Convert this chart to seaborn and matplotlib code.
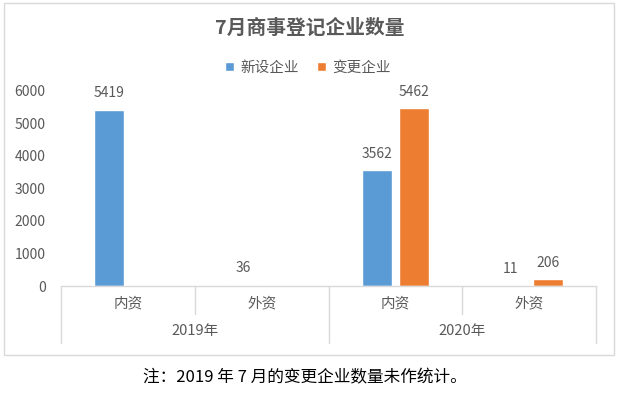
import numpy as np
import pandas as pd
import matplotlib
matplotlib.use("Agg")
import matplotlib.pyplot as plt
from matplotlib.patches import Rectangle
from matplotlib.lines import Line2D
import matplotlib.transforms as mtransforms
import seaborn as sns

# ---- data ----
years = ["2019年", "2019年", "2020年", "2020年"]
subcats = ["内资", "外资", "内资", "外资"]
series_names = ["新设企业", "变更企业"]
new_vals = [5419, 36, 3562, 11]
chg_vals = [np.nan, np.nan, 5462, 206]   # 2019 变更 not counted
yticks = [0, 1000, 2000, 3000, 4000, 5000, 6000]
title = "7月商事登记企业数量"
note = "注：2019 年 7 月的变更企业数量未作统计。"

keys = [f"{y}-{s}" for y, s in zip(years, subcats)]
rows = []
for k, a, b in zip(keys, new_vals, chg_vals):
    rows.append({"cat": k, "series": series_names[0], "value": a})
    rows.append({"cat": k, "series": series_names[1], "value": b})
df = pd.DataFrame(rows).dropna()

sns.set_style("white")
plt.rcParams["font.family"] = ["Noto Sans CJK SC", "DejaVu Sans"]

W, H = 623, 393
fig = plt.figure(figsize=(W / 100, H / 100), dpi=100)
left, right, top, bottom = 61, 596, 91, 286
ax = fig.add_axes([left / W, 1 - bottom / H, (right - left) / W, (bottom - top) / H])

palette = {"新设企业": "#5B9BD5", "变更企业": "#ED7D31"}
sns.barplot(data=df, x="cat", y="value", hue="series", order=keys,
            hue_order=series_names, palette=palette, width=0.56, gap=0.2,
            saturation=1, errorbar=None, ax=ax, legend=True)

txt_col = "#595959"
grid_col = "#D9D9D9"

for c in ax.containers:
    ax.bar_label(c, fmt="{:.0f}", padding=7, fontsize=10, color=txt_col)

ax.set_xlim(-0.5, len(keys) - 0.5)
ax.set_ylim(0, 6000)
ax.set_yticks(yticks)
ax.set_yticklabels([str(v) for v in yticks], fontsize=10, color=txt_col)
ax.tick_params(axis="y", length=0, pad=11)
ax.set_xticks([])
ax.set_xlabel("")
ax.set_ylabel("")
for s in ["top", "right", "left"]:
    ax.spines[s].set_visible(False)
ax.spines["bottom"].set_color(grid_col)
ax.spines["bottom"].set_linewidth(1)

# two-level category axis
trans = mtransforms.blended_transform_factory(ax.transData, ax.transAxes)
for i, s in enumerate(subcats):
    ax.text(i, -0.087, s, transform=trans, ha="center", va="center",
            fontsize=10.5, color=txt_col)
uniq_years = list(dict.fromkeys(years))
for y in uniq_years:
    idx = [i for i, v in enumerate(years) if v == y]
    ax.text(np.mean(idx), -0.231, y, transform=trans, ha="center", va="center",
            fontsize=10.5, color=txt_col)
# separators
for b in np.arange(-0.5, len(keys), 1.0):
    i_right = int(b + 0.5)
    is_group_edge = (b == -0.5) or (b == len(keys) - 0.5) or (years[i_right] != years[i_right - 1])
    y0 = -0.292 if is_group_edge else -0.144
    ax.add_line(Line2D([b, b], [0, y0], transform=trans, color=grid_col,
                       lw=1, clip_on=False))

# legend
handles, labels = ax.get_legend_handles_labels()
ax.get_legend().remove()
fig.legend(handles, labels, loc="center", bbox_to_anchor=(308 / W, 1 - 68 / H),
           ncol=2, frameon=False, fontsize=10.5, handlelength=0.6, handleheight=0.6,
           handletextpad=0.4, columnspacing=1.3, labelcolor=txt_col)

# title
fig.text(309.5 / W, 1 - 28 / H, title, ha="center", va="center",
         fontsize=14.2, fontweight="bold", color=txt_col)

# chart border
fig.add_artist(Rectangle((4 / W, 1 - 355 / H), (614 - 4) / W, (355 - 3) / H,
                         transform=fig.transFigure, fill=False,
                         edgecolor=grid_col, lw=1))

# footnote
fig.text(305 / W, 1 - 378 / H, note, ha="center", va="center",
         fontsize=12, color="#000000")

fig.savefig("out.png", dpi=100)
